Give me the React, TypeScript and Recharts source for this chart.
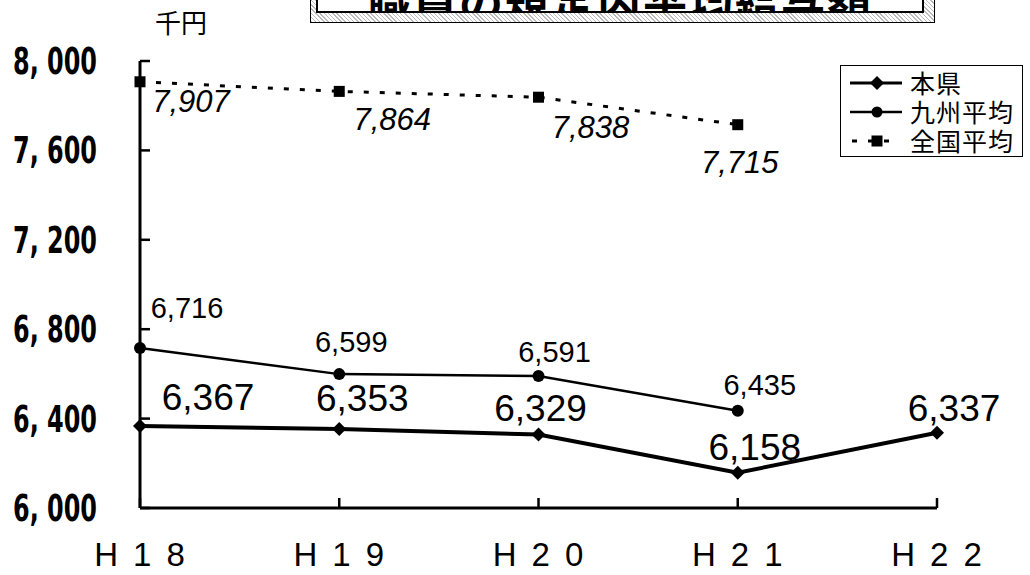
import { LineChart, Line, XAxis, YAxis, Legend, LabelList } from "recharts";

const years = ["H18", "H19", "H20", "H21", "H22"];
const honken = [6367, 6353, 6329, 6158, 6337];
const kyushu = [6716, 6599, 6591, 6435, null];
const zenkoku = [7907, 7864, 7838, 7715, null];
const yTicks = [6000, 6400, 6800, 7200, 7600, 8000];
const seriesOrder = ["honken", "kyushu", "zenkoku"];

// label nudges from each point: [dx, dy]
const honkenNudge = [[68, -16], [23, -18], [2, -13], [17, -13], [17, -12]];
const kyushuNudge = [[47, -30], [12, -22], [16, -14], [22, -16]];
const zenkokuNudge = [[51, 30], [53, 39], [52, 41], [2, 48]];

const data = years.map((year, i) => ({
  year,
  honken: honken[i],
  kyushu: kyushu[i],
  zenkoku: zenkoku[i],
}));

const ARIAL = "'Liberation Sans', Arial, sans-serif";
const JP = "'Noto Sans CJK JP', sans-serif";

const fmt = (v: number) => v.toLocaleString("en-US");
const fmtAxis = (v: number) => `${Math.floor(v / 1000)}, ${String(v % 1000).padStart(3, "0")}`;

function makeLabel(nudge: number[][], fontSize: number, italic: boolean) {
  return (props: any) => {
    const { value, index } = props;
    const x = props.x ?? props.viewBox?.x;
    const y = props.y ?? props.viewBox?.y;
    if (value == null || x == null || y == null) return null;
    const [dx, dy] = nudge[index] || [0, 0];
    return (
      <text
        x={x + dx}
        y={y + dy}
        textAnchor="middle"
        fontSize={fontSize}
        fontStyle={italic ? "italic" : "normal"}
        fontFamily={ARIAL}
        fill="#000"
      >
        {fmt(value)}
      </text>
    );
  };
}

const Diamond = (p: any) => {
  if (p.cy == null) return null;
  const s = 7;
  return (
    <path
      key={`d-${p.index}`}
      d={`M${p.cx},${p.cy - s}L${p.cx + s},${p.cy}L${p.cx},${p.cy + s}L${p.cx - s},${p.cy}Z`}
      fill="#000"
    />
  );
};

const Dot = (p: any) => {
  if (p.cy == null) return null;
  return <circle key={`c-${p.index}`} cx={p.cx} cy={p.cy} r={6} fill="#000" />;
};

const Square = (p: any) => {
  if (p.cy == null) return null;
  return <rect key={`s-${p.index}`} x={p.cx - 5.5} y={p.cy - 5.5} width={11} height={11} fill="#000" />;
};

const YTick = (p: any) => {
  const { x, y, payload } = p;
  const ax = x + 43;
  return (
    <g>
      <line x1={ax} x2={ax + 10} y1={y} y2={y} stroke="#000" strokeWidth={2.5} />
      <text
        x={x}
        y={y + 13}
        textAnchor="end"
        fontSize={37}
        fontWeight="bold"
        fontFamily="'Liberation Sans Narrow', 'DejaVu Sans Condensed', sans-serif"
        textLength={84}
        lengthAdjust="spacingAndGlyphs"
        fill="#000"
      >
        {fmtAxis(payload.value)}
      </text>
    </g>
  );
};

const XTick = (p: any) => {
  const { x, y, payload } = p;
  return (
    <g>
      <line x1={x} x2={x} y1={y - 10} y2={y} stroke="#000" strokeWidth={2.5} />
      <text x={x + 7} y={y + 58} textAnchor="middle" fontSize={33} letterSpacing={15} fontFamily={ARIAL} fill="#000">
        {payload.value}
      </text>
    </g>
  );
};

const legendIcon = (key: string) => {
  if (key === "honken")
    return (
      <>
        <line x1={0} x2={52} y1={10} y2={10} stroke="#000" strokeWidth={3} />
        <path d="M27,3L34,10L27,17L20,10Z" fill="#000" />
      </>
    );
  if (key === "kyushu")
    return (
      <>
        <line x1={0} x2={52} y1={10} y2={10} stroke="#000" strokeWidth={2.5} />
        <circle cx={27} cy={10} r={5.5} fill="#000" />
      </>
    );
  return (
    <>
      <line x1={2} x2={48} y1={10} y2={10} stroke="#000" strokeWidth={3} strokeDasharray="5 11" />
      <rect x={21.5} y={4.5} width={11} height={11} fill="#000" />
    </>
  );
};

const LegendBox = (props: any) => {
  const items = [...(props.payload || [])].sort(
    (a: any, b: any) => seriesOrder.indexOf(a.dataKey) - seriesOrder.indexOf(b.dataKey)
  );
  return (
    <div
      style={{
        border: "1.5px solid #000",
        background: "#fff",
        width: 183,
        height: 92,
        boxSizing: "border-box",
        padding: "2px 0 0 9px",
      }}
    >
      {items.map((e: any) => (
        <div key={e.value} style={{ display: "flex", alignItems: "center", height: 29 }}>
          <svg width={56} height={20} style={{ marginRight: 4, flexShrink: 0 }}>
            {legendIcon(e.dataKey)}
          </svg>
          <span
            style={{
              fontSize: 25,
              fontFamily: JP,
              lineHeight: "25px",
              height: 25,
              display: "block",
              color: "#000",
              letterSpacing: 1,
              whiteSpace: "nowrap",
            }}
          >
            {e.value}
          </span>
        </div>
      ))}
    </div>
  );
};

export default function App() {
  return (
    <div
      style={{
        position: "absolute",
        left: 0,
        top: 0,
        width: 1030,
        height: 575,
        background: "#fff",
        overflow: "hidden",
      }}
    >
      {/* title box, clipped by the top edge */}
      <div
        style={{
          position: "absolute",
          left: 310,
          top: -45,
          width: 625,
          height: 68,
          border: "1.5px solid #000",
          boxSizing: "border-box",
          background: "repeating-linear-gradient(45deg, #bbb 0 1px, #fff 1px 3px)",
        }}
      >
        <div
          style={{
            position: "absolute",
            left: 5,
            right: 10,
            top: -2,
            bottom: 9,
            background: "#fff",
            border: "2px solid #000",
            overflow: "hidden",
          }}
        >
          <div
            style={{
              position: "absolute",
              left: 0,
              right: 0,
              bottom: -22,
              textAlign: "center",
              fontSize: 44,
              fontWeight: "bold",
              fontFamily: JP,
              letterSpacing: 2,
              whiteSpace: "nowrap",
              color: "#000",
            }}
          >
            職員の規定内平均給与額
          </div>
        </div>
      </div>

      <div
        style={{
          position: "absolute",
          left: 155,
          top: 3,
          fontSize: 26,
          fontFamily: JP,
          color: "#000",
        }}
      >
        千円
      </div>

      <LineChart width={1030} height={575} data={data} margin={{ top: 61, right: 93, bottom: 0, left: 0 }}>
        <XAxis
          dataKey="year"
          height={67}
          interval={0}
          tickSize={0}
          tickMargin={0}
          tick={<XTick />}
          axisLine={{ stroke: "#000", strokeWidth: 3 }}
          tickLine={false}
        />
        <YAxis
          domain={[6000, 8000]}
          ticks={yTicks}
          width={140}
          interval={0}
          tickSize={0}
          tickMargin={43}
          tick={<YTick />}
          axisLine={{ stroke: "#000", strokeWidth: 3 }}
          tickLine={false}
        />
        <Legend
          layout="vertical"
          align="center"
          verticalAlign="middle"
          content={<LegendBox />}
          wrapperStyle={{ position: "absolute", left: 840, top: 65, width: 183, height: 92 }}
        />
        <Line
          dataKey="honken"
          name="本県"
          stroke="#000"
          strokeWidth={4}
          dot={Diamond}
          activeDot={false}
          isAnimationActive={false}
        >
          <LabelList dataKey="honken" content={makeLabel(honkenNudge, 37, false)} />
        </Line>
        <Line
          dataKey="kyushu"
          name="九州平均"
          stroke="#000"
          strokeWidth={2.5}
          dot={Dot}
          activeDot={false}
          isAnimationActive={false}
        >
          <LabelList dataKey="kyushu" content={makeLabel(kyushuNudge, 29, false)} />
        </Line>
        <Line
          dataKey="zenkoku"
          name="全国平均"
          stroke="#000"
          strokeWidth={3}
          strokeDasharray="5 11"
          dot={Square}
          activeDot={false}
          isAnimationActive={false}
        >
          <LabelList dataKey="zenkoku" content={makeLabel(zenkokuNudge, 31, true)} />
        </Line>
      </LineChart>
    </div>
  );
}
